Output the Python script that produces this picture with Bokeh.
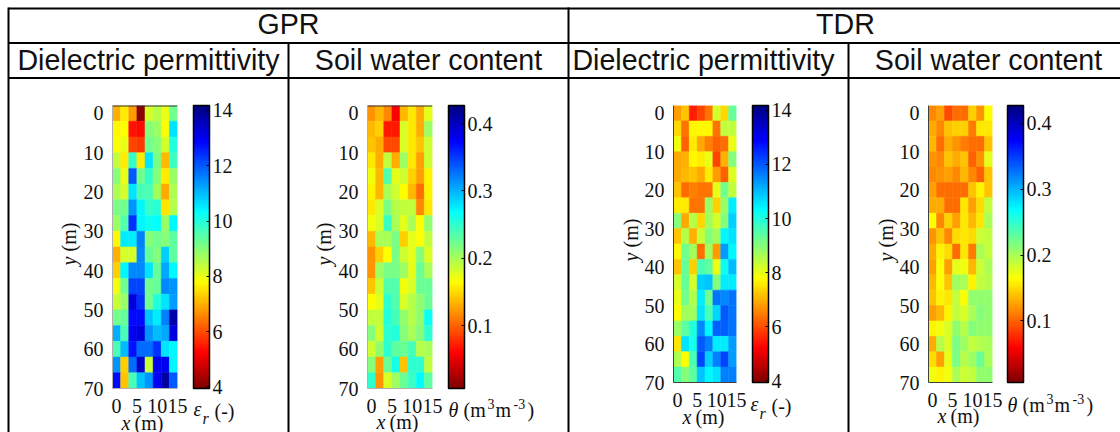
from bokeh.embed import file_html
from bokeh.resources import INLINE
from bokeh.plotting import figure
from bokeh.layouts import column, row
from bokeh.models import (ColorBar, ColumnDataSource, FixedTicker, LinearColorMapper,
                          Range1d, Span)
from bokeh.transform import transform
from bokeh.core.properties import value
import numpy as np

x_cells = [0, 2, 4, 6, 8, 10, 12, 14]
y_cells = [0, 4, 8, 12, 16, 20, 24, 28, 32, 36, 40, 44, 48, 52, 56, 60, 64, 68]
x_ticks = [0, 5, 10, 15]
y_ticks = [0, 10, 20, 30, 40, 50, 60, 70]
eps_ticks = [4, 6, 8, 10, 12, 14]
theta_ticks = [0.1, 0.2, 0.3, 0.4]

gpr_eps = [
    [7.0, 7.6, 6.8, 4.1, 8.2, 8.5, 8.0, 9.2],
    [7.7, 7.8, 5.4, 5.3, 9.0, 8.8, 7.8, 10.6],
    [7.8, 8.0, 5.9, 5.8, 9.2, 9.0, 8.2, 10.0],
    [8.4, 7.6, 9.8, 7.6, 10.6, 9.1, 7.1, 9.7],
    [9.0, 8.0, 12.0, 9.2, 9.8, 9.0, 7.6, 8.8],
    [8.6, 8.2, 10.6, 9.6, 9.6, 8.7, 6.9, 8.6],
    [9.1, 9.2, 11.4, 10.4, 9.8, 9.9, 7.5, 8.5],
    [8.8, 9.5, 12.4, 10.4, 10.2, 10.3, 8.8, 10.4],
    [7.7, 10.5, 10.5, 11.6, 9.0, 9.2, 9.0, 9.4],
    [7.0, 8.2, 8.2, 11.5, 9.3, 9.0, 10.8, 9.4],
    [7.3, 10.4, 11.5, 11.5, 10.6, 9.3, 11.2, 10.4],
    [7.9, 9.2, 12.2, 12.2, 9.2, 9.3, 11.5, 11.4],
    [8.3, 8.8, 13.2, 12.4, 9.2, 10.0, 10.6, 11.3],
    [9.2, 9.3, 12.8, 12.8, 10.9, 10.5, 11.6, 13.7],
    [11.1, 9.6, 13.0, 13.2, 11.4, 11.0, 11.2, 13.2],
    [9.6, 11.0, 12.7, 11.8, 11.8, 12.4, 10.6, 10.4],
    [11.4, 7.3, 11.8, 13.4, 8.3, 13.0, 13.0, 10.4],
    [12.8, 7.2, 9.6, 10.9, 11.4, 13.0, 13.8, 12.0],
]
gpr_theta = [
    [.12, .135, .115, .058, .135, .155, .13, .175],
    [.135, .145, .07, .07, .18, .155, .13, .205],
    [.14, .13, .09, .09, .18, .155, .14, .185],
    [.155, .13, .19, .13, .205, .155, .125, .185],
    [.17, .135, .235, .175, .185, .145, .125, .16],
    [.16, .135, .2, .185, .165, .135, .105, .16],
    [.155, .18, .22, .195, .19, .19, .115, .155],
    [.17, .18, .245, .2, .175, .2, .165, .21],
    [.135, .2, .2, .22, .145, .175, .165, .19],
    [.12, .145, .165, .22, .185, .175, .215, .18],
    [.12, .205, .22, .22, .205, .175, .225, .2],
    [.14, .185, .235, .235, .17, .18, .225, .225],
    [.165, .175, .25, .235, .18, .195, .21, .225],
    [.19, .19, .255, .24, .21, .195, .21, .265],
    [.215, .185, .25, .255, .215, .2, .215, .25],
    [.185, .21, .25, .23, .225, .24, .195, .2],
    [.215, .125, .225, .26, .14, .25, .25, .19],
    [.25, .12, .18, .205, .225, .245, .27, .23],
]
tdr_eps = [
    [6.8, 7.2, 5.5, 5.9, 6.4, 8.2, 7.4, 9.3],
    [7.4, 6.4, 7.7, 7.7, 7.7, 6.4, 8.4, 8.4],
    [7.9, 6.2, 7.6, 6.9, 6.5, 6.2, 6.3, 8.0],
    [6.9, 7.0, 7.7, 7.6, 8.0, 5.9, 7.0, 9.0],
    [6.9, 7.1, 7.2, 6.9, 7.6, 6.8, 6.2, 8.1],
    [7.2, 6.3, 6.5, 6.4, 6.4, 8.0, 9.2, 8.4],
    [7.6, 7.6, 6.4, 6.4, 8.8, 7.3, 8.8, 10.5],
    [9.0, 6.9, 8.5, 7.4, 8.7, 8.2, 9.0, 10.8],
    [7.2, 8.5, 7.0, 8.3, 9.0, 8.7, 10.4, 10.6],
    [7.7, 9.2, 8.7, 6.3, 8.7, 6.8, 11.3, 10.4],
    [7.2, 9.3, 7.3, 9.6, 9.4, 8.0, 10.2, 11.0],
    [8.2, 9.3, 8.2, 10.8, 10.9, 9.0, 10.5, 10.5],
    [8.0, 9.2, 8.5, 10.5, 9.2, 11.7, 11.5, 11.7],
    [7.8, 8.7, 8.7, 10.6, 9.6, 10.7, 12.0, 11.7],
    [8.8, 9.4, 10.0, 11.5, 10.4, 11.9, 11.9, 11.7],
    [7.5, 10.6, 10.1, 12.0, 11.6, 10.5, 10.5, 11.3],
    [8.6, 7.8, 9.6, 12.2, 10.8, 11.6, 12.2, 11.3],
    [9.5, 9.0, 9.4, 10.9, 10.4, 10.6, 11.6, 11.6],
]
tdr_theta = [
    [.115, .125, .09, .105, .105, .145, .12, .165],
    [.13, .115, .14, .145, .145, .11, .155, .155],
    [.135, .105, .13, .12, .11, .105, .105, .14],
    [.12, .115, .14, .13, .14, .10, .12, .175],
    [.115, .12, .125, .115, .135, .115, .10, .14],
    [.125, .105, .105, .105, .105, .14, .16, .14],
    [.13, .13, .105, .105, .155, .125, .15, .19],
    [.165, .115, .145, .125, .155, .135, .155, .2],
    [.12, .14, .115, .15, .155, .15, .185, .19],
    [.13, .16, .15, .105, .155, .11, .2, .19],
    [.125, .165, .125, .175, .17, .135, .185, .2],
    [.135, .165, .14, .205, .2, .16, .19, .195],
    [.14, .16, .155, .19, .165, .21, .21, .21],
    [.125, .135, .16, .19, .18, .2, .215, .21],
    [.16, .17, .18, .21, .195, .215, .21, .21],
    [.13, .195, .18, .22, .205, .19, .195, .2],
    [.15, .125, .175, .22, .195, .205, .225, .2],
    [.17, .16, .17, .2, .185, .19, .21, .21],
]

SERIF = "Liberation Serif"
SANS = "Liberation Sans"
LINE = 2
W, H = 1120, 432
FOOT = 44


def jet_reversed(n=256):
    t = np.linspace(0, 1, n)
    r = np.clip(np.minimum(4 * t - 1.5, -4 * t + 4.5), 0, 1)
    g = np.clip(np.minimum(4 * t - 0.5, -4 * t + 3.5), 0, 1)
    b = np.clip(np.minimum(4 * t + 0.5, -4 * t + 2.5), 0, 1)
    return ["#%02x%02x%02x" % (int(a * 255), int(c * 255), int(d * 255))
            for a, c, d in zip(r, g, b)][::-1]


PALETTE = jet_reversed()


def panel(grid, low, high, ticks, fl, fw, ft, fh, bar_gap, dark_top, cell_w):
    mapper = LinearColorMapper(palette=PALETTE, low=low, high=high)
    xs, ys, vs = [], [], []
    for j, yy in enumerate(y_cells):
        for i, xx in enumerate(x_cells):
            xs.append(xx); ys.append(yy); vs.append(grid[j][i])
    src = ColumnDataSource(dict(x=xs, y=ys, v=vs))
    p = figure(width=cell_w, height=ft + fh + FOOT, output_backend="svg", toolbar_location=None,
               x_range=Range1d(-1, 15), y_range=Range1d(70, -2),
               min_border_left=fl, min_border_right=cell_w - fl - fw,
               min_border_top=ft, min_border_bottom=FOOT,
               outline_line_color=None, background_fill_color=None, border_fill_color=None)
    p.grid.visible = False
    p.rect("x", "y", 2, 4, source=src, fill_color=transform("v", mapper),
           line_color=transform("v", mapper), line_width=0.5)
    axis_col = "#b0b0b0" if dark_top else "#404040"
    for ax, tk in ((p.xaxis[0], x_ticks), (p.yaxis[0], y_ticks)):
        ax.ticker = FixedTicker(ticks=tk)
        ax.major_tick_line_color = None
        ax.minor_tick_line_color = None
        ax.axis_line_color = axis_col
        ax.major_label_text_font = SERIF
        ax.major_label_text_font_size = "20px"
        ax.major_label_text_color = "#111111"
        ax.major_label_standoff = 3
    p.xaxis[0].major_label_standoff = 4
    if dark_top:
        p.add_layout(Span(location=-2, dimension="width", line_color="#303040", line_width=2))
    cb = ColorBar(color_mapper=mapper, width=16, height=fh, padding=0, margin=0,
                  location=(fw + bar_gap, 0),
                  ticker=FixedTicker(ticks=ticks), major_tick_in=3, major_tick_out=0,
                  major_tick_line_color="black", minor_tick_line_color=None,
                  bar_line_color="black", bar_line_width=1.5,
                  major_label_text_font=SERIF, major_label_text_font_size="20px",
                  major_label_text_color="#111111", label_standoff=3,
                  title=None, background_fill_alpha=0, border_line_color=None)
    p.add_layout(cb, "center")
    return p


# backdrop: table rules and all free-standing text
base = figure(width=W, height=H, output_backend="svg", toolbar_location=None,
              x_range=Range1d(0, W), y_range=Range1d(H, 0),
              min_border=0, outline_line_color=None, x_axis_location=None, y_axis_location=None)
base.grid.visible = False
base.segment([8, 8, 8], [8, 42.5, 77.5], [W, W, W], [8, 42.5, 77.5], line_color="black", line_width=LINE)
base.segment([8, 288, 568, 848], [7, 42, 7, 42], [8, 288, 568, 848], [H, H, H, H],
             line_color="black", line_width=LINE)


def put(s, x, y, size, font=SERIF, style="normal", angle=0, align="left", baseline="alphabetic"):
    base.text([x], [y], text=[s], text_font=value(font), text_font_size=f"{size}px",
              text_font_style=style, angle=angle, text_align=align, text_baseline=baseline,
              text_color="#111111")


for s, x, y in [("GPR", 288, 23.5), ("TDR", 845, 23.5),
                ("Dielectric permittivity", 148, 59.5), ("Soil water content", 428, 59.5),
                ("Dielectric permittivity", 703, 59.5), ("Soil water content", 988, 59.5)]:
    put(s, x, y, 28.6, font=SANS, align="center", baseline="middle")

for xl, yb in [(121, 422), (376, 421), (682, 416), (937, 415)]:
    put("x", xl, yb, 20, style="italic")
    put("(m)", xl + 13, yb, 20)
for xb, yb in [(68, 265), (323, 265), (630, 261), (885, 261)]:
    put("y", xb, yb, 20, style="italic", angle=np.pi / 2)
    put("(m)", xb, yb - 14, 20, angle=np.pi / 2)
for xl, yb in [(193, 408), (750, 403)]:
    put("\u03b5", xl, yb, 20, style="italic")
    put("r", xl + 9, yb + 10, 16, style="italic")
    put("(-)", xl + 21, yb + 2, 20)
for xl, yb in [(448, 409), (1007, 404)]:
    put("\u03b8", xl, yb, 20, style="italic")
    put("(m", xl + 15, yb, 20)
    put("3", xl + 39, yb - 6, 14)
    put("m", xl + 47, yb, 20)
    put("-3", xl + 65, yb - 6, 14)
    put(")", xl + 79, yb, 20)

p1 = panel(gpr_eps, 3.94, 14.18, eps_ticks, 112, 65, 105, 283, 16, True, 288)
p2 = panel(gpr_theta, 0.0065, 0.427, theta_ticks, 79, 65, 105, 283, 16, True, 280)
p3 = panel(tdr_eps, 3.94, 14.18, eps_ticks, 105, 63, 105, 277, 16, False, 280)
p4 = panel(tdr_theta, 0.0065, 0.427, theta_ticks, 80, 64, 105, 277, 15, False, 272)

panels = row(p1, p2, p3, p4, spacing=0, margin=(-H, 0, 0, 0))
layout = column(base, panels, spacing=0)
open("out.html", "w").write(file_html(layout, INLINE))
